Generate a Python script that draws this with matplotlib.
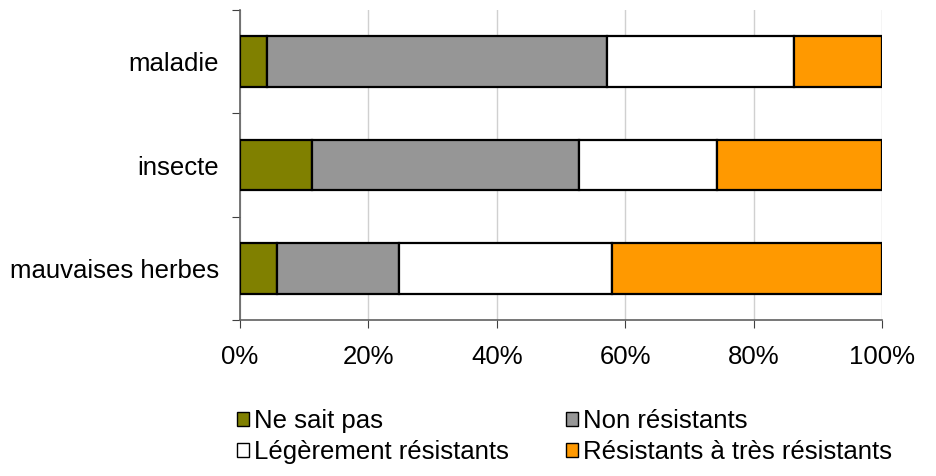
import numpy as np
import matplotlib.pyplot as plt
from matplotlib.patches import Patch

plt.rcParams['font.family'] = ['Liberation Sans', 'DejaVu Sans']

categories = ["mauvaises herbes", "insecte", "maladie"]
ne_sait_pas = [5.8, 11.2, 4.2]
non_resistants = [19.0, 41.6, 53.0]
legerement = [33.1, 21.5, 29.1]
resistants = [42.1, 25.7, 13.7]

series = [
    ("Ne sait pas", ne_sait_pas, "#808000"),
    ("Non résistants", non_resistants, "#969696"),
    ("Légèrement résistants", legerement, "#ffffff"),
    ("Résistants à très résistants", resistants, "#ff9900"),
]

FS = 18.5

fig = plt.figure(figsize=(9.37, 4.76), dpi=100)
ax = fig.add_axes([240 / 937, 1 - 320 / 476, 642 / 937, 310 / 476])

y = np.arange(len(categories))
left = np.zeros(len(categories))
for name, vals, color in series:
    ax.barh(y, vals, left=left, height=0.49, color=color,
            edgecolor="black", linewidth=1.6, label=name, zorder=3)
    left += np.array(vals)

ax.set_xlim(0, 100)
ax.set_ylim(-0.5, 2.5)
ax.set_xticks(np.arange(0, 101, 20))
ax.set_xticklabels([f"{v}%" for v in range(0, 101, 20)], fontsize=FS)
ax.tick_params(axis="x", length=6, color="#404040", pad=12)
ax.grid(axis="x", color="#d0d0d0", linewidth=1, zorder=0)

# category labels centred, ticks between them
ax.set_yticks(np.arange(-0.5, 3.0, 1.0))
ax.set_yticklabels([])
ax.set_yticks(y, minor=True)
ax.set_yticklabels(categories, minor=True, fontsize=FS)
ax.tick_params(axis="y", which="major", length=6, color="#404040")
ax.tick_params(axis="y", which="minor", length=0, pad=15)

for side in ["top", "right"]:
    ax.spines[side].set_visible(False)
for side in ["left", "bottom"]:
    ax.spines[side].set_color("#606060")
    ax.spines[side].set_linewidth(1.2)

handles = [Patch(facecolor=c, edgecolor="black", linewidth=1.0, label=n) for n, _, c in series]
order = [0, 2, 1, 3]
fig.legend([handles[i] for i in order], [series[i][0] for i in order],
           ncol=2, frameon=False, fontsize=FS, loc="upper left",
           bbox_to_anchor=(237 / 937, 1 - 409 / 476),
           handlelength=0.47, handleheight=0.47, handletextpad=0.2,
           columnspacing=2.2, labelspacing=0.27, borderaxespad=0,
           borderpad=0)

fig.savefig("out.png", dpi=100)
